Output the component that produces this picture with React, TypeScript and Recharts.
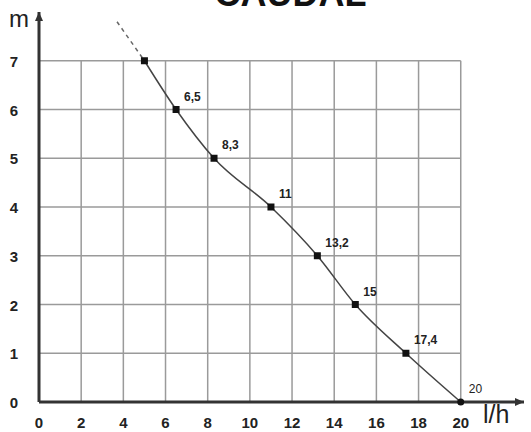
import { LineChart, Line, XAxis, YAxis, ReferenceLine, LabelList } from 'recharts';

const flowLh = [5, 6.5, 8.3, 11, 13.2, 15, 17.4, 20];
const headM = [7, 6, 5, 4, 3, 2, 1, 0];
const pointLabels = ['', '6,5', '8,3', '11', '13,2', '15', '17,4', '20'];
const extFlow = [3.7, 5];
const extHead = [7.8, 7];
const xTicks = [0, 2, 4, 6, 8, 10, 12, 14, 16, 18, 20];
const yTicks = [0, 1, 2, 3, 4, 5, 6, 7];

const curve = flowLh.map((x, i) => ({ x, y: headM[i], label: pointLabels[i] }));
const extension = extFlow.map((x, i) => ({ x, y: extHead[i] }));

const GRID = '#9a9a9a';
const AXIS = '#333';

function SquareDot(props: any) {
  const { cx, cy, index } = props;
  if (cx == null || cy == null) return null;
  if (index === curve.length - 1) return <circle cx={cx} cy={cy} r={3.5} fill="#111" />;
  return <rect x={cx - 3.5} y={cy - 3.5} width={7} height={7} fill="#111" />;
}

function PointLabel(props: any) {
  const { x, y, value, index } = props;
  if (!value) return null;
  const last = index === curve.length - 1;
  return (
    <text x={x + 8} y={y - 9} fontSize={12} fontWeight={last ? 400 : 700} fill="#222"
      fontFamily="Liberation Sans, Arial, sans-serif">
      {value}
    </text>
  );
}

function ArrowLine(props: any) {
  const { x1, y1, x2, y2 } = props;
  const horiz = Math.abs(y2 - y1) < 1;
  const head = horiz
    ? `${x2},${y2} ${x2 - 9},${y2 - 4} ${x2 - 9},${y2 + 4}`
    : `${x2},${y2} ${x2 - 4},${y2 + 9} ${x2 + 4},${y2 + 9}`;
  return (
    <g>
      <line x1={x1} y1={y1} x2={x2} y2={y2} stroke={AXIS} strokeWidth={3} />
      <polygon points={head} fill={AXIS} />
    </g>
  );
}

function XTick(props: any) {
  const { x, y, payload } = props;
  return (
    <text x={x} y={y + 18} textAnchor="middle" fontSize={15} fontWeight={700} fill="#222"
      fontFamily="Liberation Sans, Arial, sans-serif">
      {payload.value}
    </text>
  );
}

function YTick(props: any) {
  const { x, y, payload } = props;
  return (
    <text x={x - 17} y={y + 6} textAnchor="middle" fontSize={15} fontWeight={700} fill="#222"
      fontFamily="Liberation Sans, Arial, sans-serif">
      {payload.value}
    </text>
  );
}

export default function App() {
  return (
    <div style={{ position: 'absolute', left: 0, top: 0, width: 531, height: 432, overflow: 'hidden', background: '#fff' }}>
      <div style={{ position: 'absolute', left: 0, width: 531, top: -27, textAlign: 'center', paddingLeft: 50,
        boxSizing: 'border-box', fontFamily: 'Liberation Sans, Arial, sans-serif', fontWeight: 700, fontSize: 36, color: '#111' }}>
        CAUDAL
      </div>
      <div style={{ position: 'absolute', left: 9, top: 5, fontFamily: 'Liberation Sans, Arial, sans-serif', fontSize: 24, color: '#222' }}>m</div>
      <div style={{ position: 'absolute', left: 483, top: 401, lineHeight: '26px', fontFamily: 'Liberation Sans, Arial, sans-serif', fontSize: 25, color: '#222' }}>l/h</div>
      <LineChart width={531} height={432} data={curve} margin={{ top: 12, right: 7, bottom: 0, left: 0 }}>
        <XAxis type="number" dataKey="x" domain={[0, 23]} ticks={xTicks} tick={<XTick />} tickLine={false} axisLine={false} height={30} />
        <YAxis type="number" dataKey="y" domain={[0, 8]} ticks={yTicks} tick={<YTick />} tickLine={false} axisLine={false} width={39} />
        {xTicks.filter((v) => v > 0).map((v) => (
          <ReferenceLine key={'v' + v} segment={[{ x: v, y: 0 }, { x: v, y: 7 }]} stroke={GRID} strokeWidth={1.5} />
        ))}
        {yTicks.filter((v) => v > 0).map((v) => (
          <ReferenceLine key={'h' + v} segment={[{ x: 0, y: v }, { x: 20, y: v }]} stroke={GRID} strokeWidth={1.5} />
        ))}
        <ReferenceLine segment={[{ x: 0, y: 0 }, { x: 23, y: 0 }]} shape={<ArrowLine />} />
        <ReferenceLine segment={[{ x: 0, y: 0 }, { x: 0, y: 8 }]} shape={<ArrowLine />} />
        <Line data={extension} dataKey="y" type="linear" stroke="#666" strokeWidth={1.5} strokeDasharray="4 4" dot={false} isAnimationActive={false} />
        <Line dataKey="y" type="monotone" stroke="#444" strokeWidth={1.5} dot={<SquareDot />} isAnimationActive={false}>
          <LabelList dataKey="label" content={<PointLabel />} />
        </Line>
      </LineChart>
    </div>
  );
}
